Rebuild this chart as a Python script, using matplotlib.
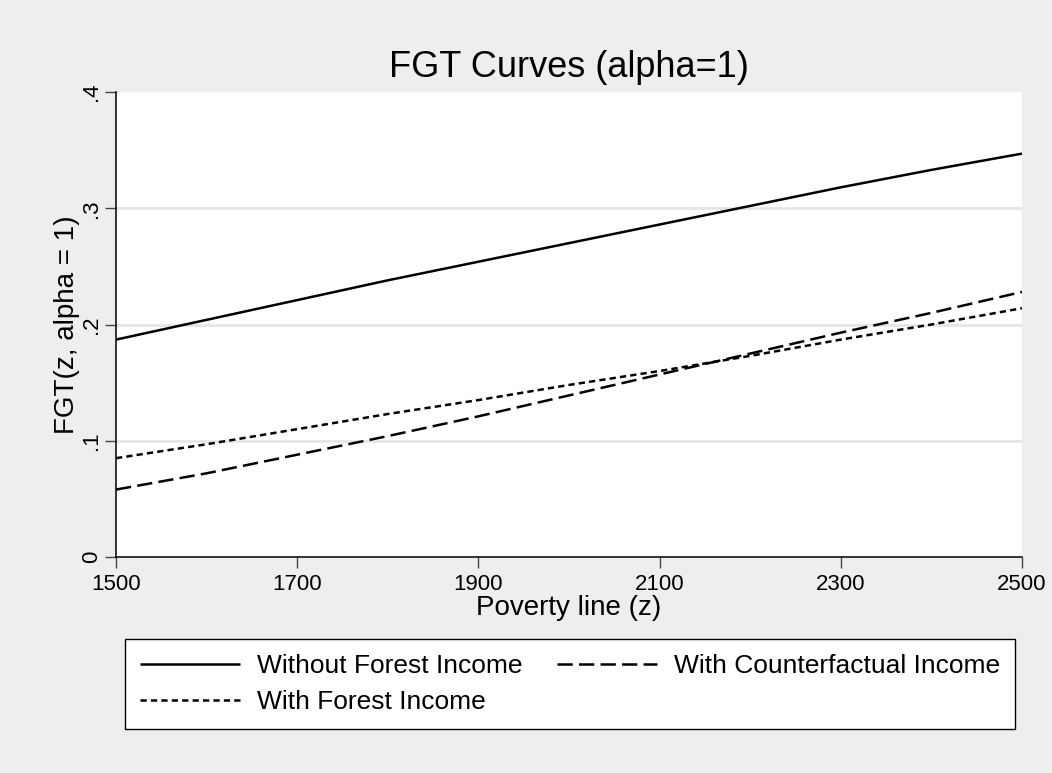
import matplotlib
matplotlib.use("Agg")
import matplotlib.pyplot as plt

plt.rcParams['font.family'] = ['Liberation Sans', 'DejaVu Sans']
plt.rcParams['lines.scale_dashes'] = False

# Poverty lines and FGT(alpha=1) estimates
poverty_line = [1500, 1600, 1700, 1800, 1900, 2000, 2100, 2200, 2300, 2400, 2500]
fgt_without_forest = [0.187, 0.204, 0.221, 0.238, 0.254, 0.270, 0.286, 0.302, 0.318, 0.333, 0.347]
fgt_counterfactual = [0.058, 0.072, 0.088, 0.104, 0.121, 0.139, 0.157, 0.175, 0.193, 0.210, 0.228]
fgt_with_forest = [0.085, 0.097, 0.110, 0.123, 0.135, 0.148, 0.160, 0.173, 0.187, 0.200, 0.214]

x_ticks = [1500, 1700, 1900, 2100, 2300, 2500]
y_ticks = [0, 0.1, 0.2, 0.3, 0.4]
y_ticklabels = ['0', '.1', '.2', '.3', '.4']

W, H = 1052, 773
bg = '#EEEEEE'

fig = plt.figure(figsize=(W / 100, H / 100), dpi=100, facecolor=bg)
ax = fig.add_axes([116 / W, 1 - 557 / H, (1022 - 116) / W, (557 - 92) / H])
ax.set_facecolor('white')

# gridlines first so the curves sit on top
for yv in y_ticks[1:-1]:
    ax.axhline(yv, color='#E6E6E6', lw=2, zorder=1)

l1, = ax.plot(poverty_line, fgt_without_forest, color='black', lw=1.8,
              solid_capstyle='butt', label='Without Forest Income', zorder=3)
l2, = ax.plot(poverty_line, fgt_counterfactual, color='black', lw=1.8,
              dashes=(11, 4.5), label='With Counterfactual Income', zorder=3)
l3, = ax.plot(poverty_line, fgt_with_forest, color='black', lw=1.8,
              dashes=(4.5, 3), label='With Forest Income', zorder=3)

ax.set_xlim(1500, 2500)
ax.set_ylim(0, 0.4)
ax.set_xticks(x_ticks)
ax.set_yticks(y_ticks)
ax.set_yticklabels(y_ticklabels, rotation=90, va='center')

for side in ['top', 'right']:
    ax.spines[side].set_visible(False)
for side in ['left', 'bottom']:
    ax.spines[side].set_color('black')
    ax.spines[side].set_linewidth(1.1)

ax.tick_params(axis='both', direction='out', length=8, width=1,
               color='#444444', labelsize=16, labelcolor='black')
ax.tick_params(axis='y', pad=2)
ax.tick_params(axis='x', pad=4)

ax.set_title('FGT Curves (alpha=1)', fontsize=26, pad=11)
ax.set_xlabel('Poverty line (z)', fontsize=20, labelpad=0)
ax.set_ylabel('FGT(z, alpha = 1)', fontsize=20, labelpad=1)

leg = ax.legend(handles=[l1, l3, l2], ncol=2, loc='upper left',
                bbox_to_anchor=(125 / W, 1 - 639 / H), bbox_transform=fig.transFigure,
                borderaxespad=0, fontsize=19, handlelength=3.8, handletextpad=0.64,
                columnspacing=1.29, borderpad=0.57, labelspacing=0.45,
                fancybox=False, framealpha=1, facecolor='white', edgecolor='black')
leg.get_frame().set_linewidth(1.0)

fig.savefig('out.png', dpi=100, facecolor=bg)
